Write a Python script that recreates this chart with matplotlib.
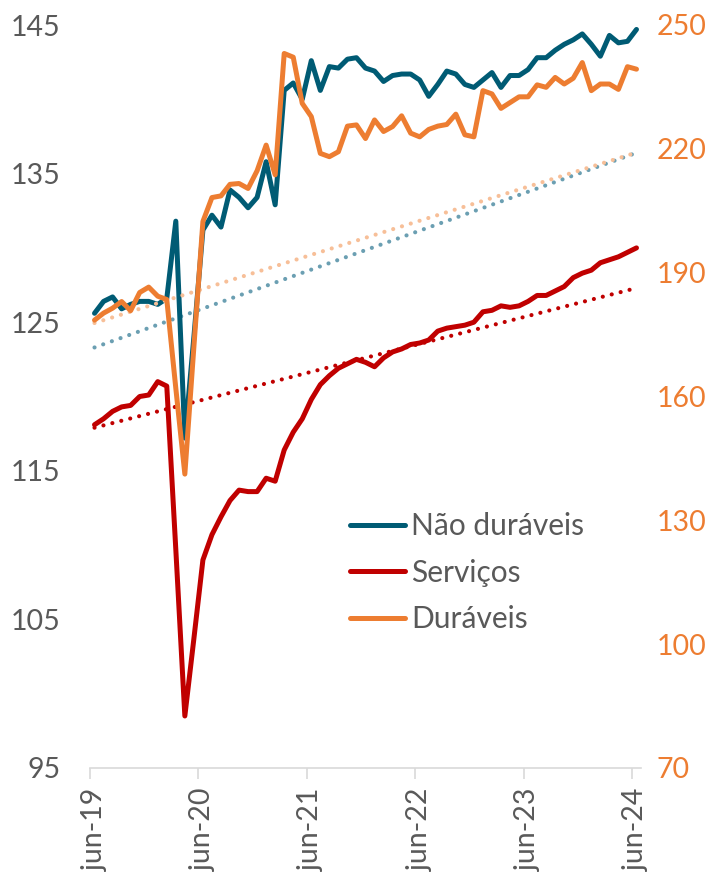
import matplotlib.pyplot as plt
import numpy as np

plt.rcParams['font.family'] = ['Lato', 'DejaVu Sans']

# monthly index, jun-19 .. jun-24
nao_duraveis = [125.6, 126.4, 126.7, 125.9, 126.2, 126.4, 126.4, 126.2, 126.6, 131.8,
                117.2, 124.0, 131.2, 132.2, 131.4, 133.9, 133.4, 132.7, 133.4, 135.8,
                132.9, 140.6, 141.1, 140.0, 142.6, 140.6, 142.2, 142.1, 142.7, 142.8,
                142.1, 141.9, 141.2, 141.6, 141.7, 141.7, 141.3, 140.2, 141.0, 141.9,
                141.7, 141.0, 140.8, 141.3, 141.8, 140.8, 141.6, 141.6, 142.0, 142.8,
                142.8, 143.3, 143.7, 144.0, 144.4, 143.7, 142.9, 144.3, 143.8, 143.9,
                144.7]
servicos = [118.1, 118.5, 119.0, 119.3, 119.4, 120.0, 120.1, 121.0, 120.7, 109.7,
            98.5, 103.7, 109.0, 110.7, 111.9, 113.0, 113.7, 113.6, 113.6, 114.5,
            114.3, 116.4, 117.6, 118.5, 119.8, 120.8, 121.4, 121.9, 122.2, 122.5,
            122.3, 122.0, 122.6, 123.0, 123.2, 123.5, 123.6, 123.8, 124.4, 124.6,
            124.7, 124.8, 125.0, 125.7, 125.8, 126.1, 126.0, 126.1, 126.4, 126.8,
            126.8, 127.1, 127.4, 128.0, 128.3, 128.5, 129.0, 129.2, 129.4, 129.7,
            130.0]
duraveis = [178.5, 180.2, 181.4, 183.0, 180.8, 185.2, 186.5, 184.3, 183.5, 162.0,
            141.2, 172.0, 202.4, 208.2, 208.6, 211.4, 211.6, 210.4, 214.7, 220.9,
            213.7, 243.1, 242.2, 231.0, 227.8, 218.9, 218.1, 219.3, 225.5, 225.8,
            222.5, 227.0, 224.2, 225.4, 228.0, 223.8, 222.9, 224.7, 225.5, 225.9,
            228.4, 223.4, 222.9, 234.1, 233.3, 229.8, 231.2, 232.6, 232.6, 235.5,
            234.9, 237.3, 235.7, 237.1, 240.9, 234.1, 235.7, 235.7, 234.4, 239.9,
            239.3]

# trend lines: value at jun-19 and at jun-24
trend_nao_duraveis = [123.3, 136.4]
trend_servicos = [117.9, 127.3]
trend_duraveis = [177.8, 219.1]

tick_labels = ['jun-19', 'jun-20', 'jun-21', 'jun-22', 'jun-23', 'jun-24']

teal = '#005b74'
red = '#c00000'
orange = '#ed7d31'
grey = '#595959'

n = len(servicos)
x = np.arange(n) + 0.5
x_trend = [x[0], x[-1]]

fig = plt.figure(figsize=(7.22, 8.75), dpi=100)
ax = fig.add_axes([90 / 722, 1 - 768 / 875, 551 / 722, 743 / 875])
ax2 = ax.twinx()

lw = 3.6
dots = dict(linestyle=(0, (0.01, 2.2)), dash_capstyle='round', lw=3.0)
ax.plot(x_trend, trend_nao_duraveis, color='#6b9fb2', **dots)
ax.plot(x_trend, trend_servicos, color=red, **dots)
ax2.plot(x_trend, trend_duraveis, color='#f7bf98', **dots)

l1, = ax.plot(x, nao_duraveis, color=teal, lw=lw, solid_capstyle='round', solid_joinstyle='round')
l2, = ax.plot(x, servicos, color=red, lw=lw, solid_capstyle='round', solid_joinstyle='round')
l3, = ax2.plot(x, duraveis, color=orange, lw=lw, solid_capstyle='round', solid_joinstyle='round')

ax.set_xlim(0, n)
ax.set_ylim(95, 145)
ax2.set_ylim(70, 250)
ax.set_yticks(range(95, 146, 10))
ax2.set_yticks(range(70, 251, 30))

ax.set_xticks(np.arange(0, n, 12))
ax.set_xticklabels([])
ax.set_xticks(np.arange(0, n, 12) + 0.5, minor=True)
ax.set_xticklabels(tick_labels, minor=True, rotation=90, fontsize=20.5, color=grey)
ax.tick_params(axis='x', which='major', length=8, width=1.2, color='#d9d9d9')
ax.tick_params(axis='x', which='minor', length=0, pad=15)

ax.tick_params(axis='y', length=0, pad=21, labelsize=20.5, labelcolor=grey)
ax2.tick_params(axis='y', length=0, pad=11, labelsize=20.5, labelcolor=orange)

for a in (ax, ax2):
    for s in ('top', 'left', 'right'):
        a.spines[s].set_visible(False)
    a.spines['bottom'].set_color('#d9d9d9')
    a.spines['bottom'].set_linewidth(1.2)
ax2.spines['bottom'].set_visible(False)

leg = ax2.legend([l1, l2, l3], ['Não duráveis', 'Serviços', 'Duráveis'],
                 loc='upper left', bbox_to_anchor=(350 / 722, 1 - 512 / 875),
                 bbox_transform=fig.transFigure, frameon=False, fontsize=21.5,
                 handlelength=1.85, handletextpad=0.2, labelspacing=0.62,
                 borderpad=0, borderaxespad=0)
for t in leg.get_texts():
    t.set_color(grey)

fig.savefig('out.png', dpi=100)
